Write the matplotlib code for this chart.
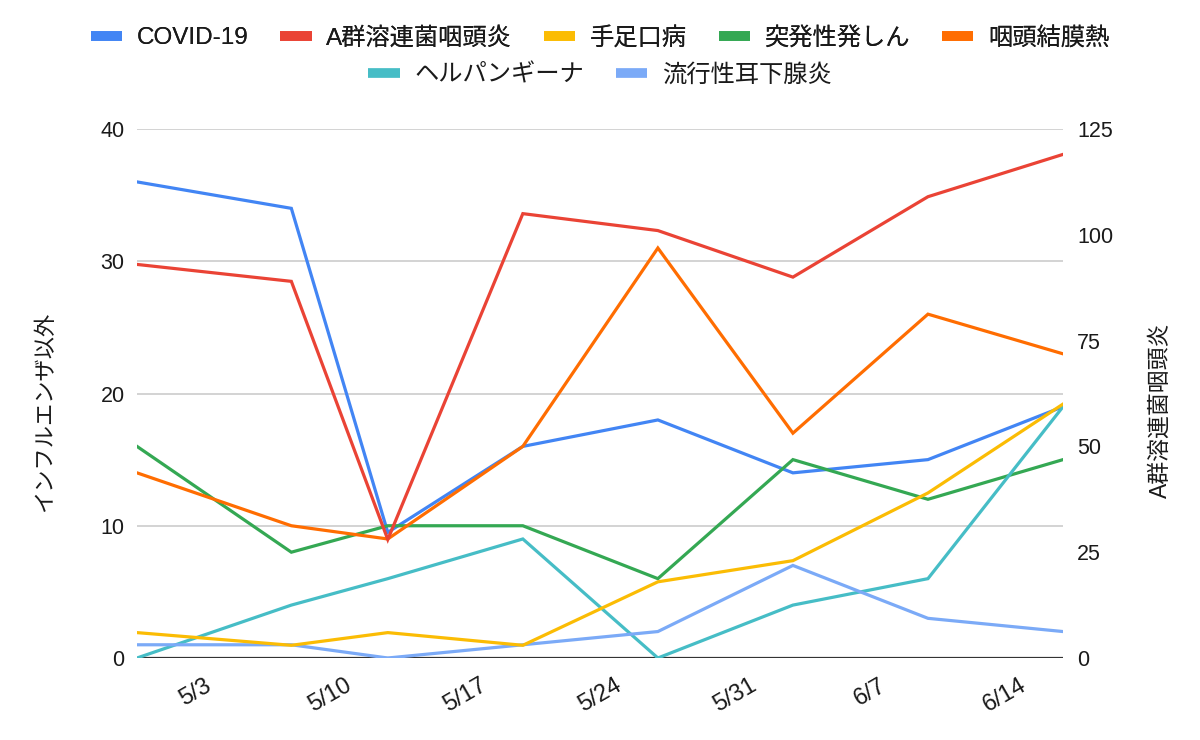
import matplotlib
matplotlib.use("Agg")
import matplotlib.pyplot as plt
from matplotlib.lines import Line2D
import datetime as dt

plt.rcParams['font.family'] = ['Liberation Sans', 'Noto Sans CJK JP', 'DejaVu Sans']

# ---- data ----
dates = ["2023-04-30", "2023-05-08", "2023-05-13", "2023-05-20",
         "2023-05-27", "2023-06-03", "2023-06-10", "2023-06-17"]
tick_dates = ["2023-05-03", "2023-05-10", "2023-05-17", "2023-05-24",
              "2023-05-31", "2023-06-07", "2023-06-14"]
tick_labels = ["5/3", "5/10", "5/17", "5/24", "5/31", "6/7", "6/14"]

covid = [36, 34, 9.5, 16, 18, 14, 15, 19]
strep_a = [93, 89, 28, 105, 101, 90, 109, 119]          # right axis
hfmd = [6, 3, 6, 3, 18, 23, 39, 60]                     # right axis
roseola = [16, 8, 10, 10, 6, 15, 12, 15]
pharyngoconj = [14, 10, 9, 16, 31, 17, 26, 23]
herpangina = [0, 4, 6, 9, 0, 4, 6, 19]
mumps = [1, 1, 0, 1, 2, 7, 3, 2]

names = ["COVID-19", "A群溶連菌咽頭炎", "手足口病", "突発性発しん",
         "咽頭結膜熱", "ヘルパンギーナ", "流行性耳下腺炎"]
colors = ["#4285F4", "#EA4335", "#FBBC04", "#34A853",
          "#FF6D01", "#46BDC6", "#7BAAF7"]

left_title = "インフルエンザ以外"
right_title = "A群溶連菌咽頭炎"

# ---- figure ----
x = [dt.datetime.strptime(d, "%Y-%m-%d") for d in dates]
xt = [dt.datetime.strptime(d, "%Y-%m-%d") for d in tick_dates]

fig = plt.figure(figsize=(12, 7.4), dpi=100)
ax = fig.add_axes([137/1200, 1 - 658/740, (1063 - 137)/1200, (658 - 129)/740])
ax2 = ax.twinx()

lw = 2.3
left_series = [(covid, 0), (roseola, 3), (pharyngoconj, 4), (herpangina, 5), (mumps, 6)]
right_series = [(strep_a, 1), (hfmd, 2)]
for vals, i in left_series:
    ax.plot(x, vals, color=colors[i], lw=lw, solid_joinstyle='miter', zorder=3)
for vals, i in right_series:
    ax2.plot(x, vals, color=colors[i], lw=lw, solid_joinstyle='miter', zorder=3)

ax.set_xlim(x[0], x[-1])
ax.set_ylim(0, 40)
ax.set_yticks([0, 10, 20, 30, 40])
ax2.set_ylim(0, 125)
ax2.set_yticks([0, 25, 50, 75, 100, 125])

ax.set_xticks(xt)
ax.set_xticklabels(tick_labels, rotation=30, ha='center')

for a in (ax, ax2):
    for s in a.spines.values():
        s.set_visible(False)
ax.tick_params(axis='y', length=0, pad=9, labelsize=15.5, labelcolor='#1a1a1a')
ax2.tick_params(axis='y', length=0, pad=10, labelsize=15.5, labelcolor='#1a1a1a')
ax.tick_params(axis='x', length=0, pad=12, labelsize=17, labelcolor='#1a1a1a')

ax.grid(axis='y', color='#cccccc', lw=1.2, zorder=0)
ax.grid(axis='x', visible=False)
ax.axhline(0, color='#333333', lw=1.6, zorder=2)
ax.set_axisbelow(True)

fig.text(45/1200, 1 - 412/740, left_title, rotation=90, ha='center', va='center',
         fontsize=16, color='#1a1a1a', family=['Noto Sans CJK JP'])
fig.text(1160/1200, 1 - 410/740, right_title, rotation=90, ha='center', va='center',
         fontsize=16.5, color='#1a1a1a', family=['Liberation Sans', 'Noto Sans CJK JP'])

handles = [Line2D([0], [0], color=c, lw=7, solid_capstyle='butt') for c in colors]
leg_kw = dict(frameon=False, fontsize=17.5, handlelength=1.3, handletextpad=0.6,
              columnspacing=1.3, borderpad=0, labelcolor='#1a1a1a', loc='center')
leg1 = fig.legend(handles[:5], names[:5], ncol=5,
                  bbox_to_anchor=(0.5, 1 - 38/740), **leg_kw)
fig.add_artist(leg1)
fig.legend(handles[5:], names[5:], ncol=2,
           bbox_to_anchor=(0.5, 1 - 75/740), **leg_kw)

fig.savefig("out.png", dpi=100, facecolor='white')
